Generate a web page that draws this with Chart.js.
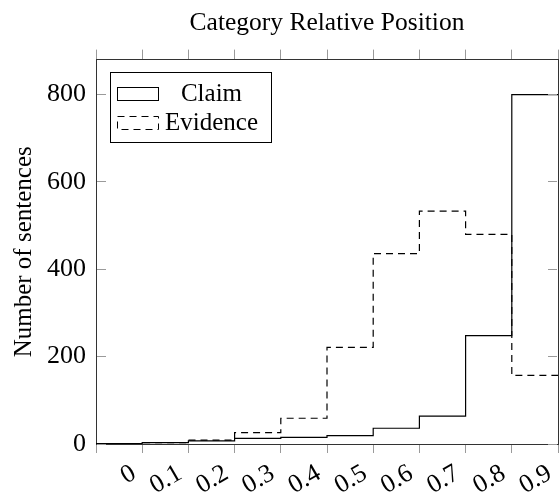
<!DOCTYPE html>
<html><head><meta charset="utf-8">
<script src="https://cdn.jsdelivr.net/npm/chart.js@4.4.1/dist/chart.umd.min.js"></script>
<style>html,body{margin:0;padding:0;background:#fff;} canvas{display:block;}</style>
</head><body>
<canvas id="c" width="559" height="495"></canvas>
<script>
// ---- data ----
const binEdges = [0, 0.1, 0.2, 0.3, 0.4, 0.5, 0.6, 0.7, 0.8, 0.9, 1.0];
const xTickLabels = ['0', '0.1', '0.2', '0.3', '0.4', '0.5', '0.6', '0.7', '0.8', '0.9'];
const claimCounts = [1, 3, 7, 13, 15, 19, 36, 64, 248, 800];
const evidenceCounts = [1, 3, 9, 26, 59, 221, 436, 533, 480, 157];
const yTickValues = [0, 200, 400, 600, 800];
const seriesNames = ['Claim', 'Evidence'];
const chartTitle = 'Category Relative Position';
const yAxisTitle = 'Number of sentences';

function stepPoints(counts) {
  const pts = counts.map((v, i) => ({ x: binEdges[i], y: v }));
  pts.push({ x: binEdges[counts.length], y: counts[counts.length - 1] });
  return pts;
}

const SERIF = '"Liberation Serif", "Times New Roman", serif';
const FRAME = '#333';
const TICKC = '#9a9a9a';

// inner tick marks for the vertical axes (pgfplots style: ticks point into the plot)
const innerTicks = {
  id: 'innerTicks',
  afterDraw(chart) {
    const { ctx, chartArea } = chart;
    ctx.save();
    ctx.strokeStyle = TICKC;
    ctx.lineWidth = 1;
    ctx.setLineDash([]);
    ['y', 'yRight'].forEach(id => {
      const s = chart.scales[id];
      s.ticks.forEach(t => {
        const py = Math.round(s.getPixelForValue(t.value) - 0.5) + 0.5;
        ctx.beginPath();
        if (id === 'y') {
          ctx.moveTo(chartArea.left + 1, py);
          ctx.lineTo(chartArea.left + 10, py);
        } else {
          ctx.moveTo(chartArea.right - 1, py);
          ctx.lineTo(chartArea.right - 10, py);
        }
        ctx.stroke();
      });
    });
    ctx.restore();
  }
};

const insideLegend = {
  id: 'insideLegend',
  afterDatasetsDraw(chart) {
    const { ctx, chartArea } = chart;
    const bx = Math.round(chartArea.left + 14) + 0.5;
    const by = Math.round(chartArea.top + 12) + 0.5;
    const bw = 161, bh = 70;
    ctx.save();
    ctx.fillStyle = '#fff';
    ctx.fillRect(bx, by, bw, bh);
    ctx.strokeStyle = '#000';
    ctx.lineWidth = 1;
    ctx.setLineDash([]);
    ctx.strokeRect(bx, by, bw, bh);
    chart.data.datasets.forEach((ds, i) => {
      const cy = by + 21 + i * 28.5;
      ctx.setLineDash(ds.borderDash || []);
      ctx.strokeStyle = ds.borderColor;
      ctx.lineWidth = 1;
      ctx.fillStyle = '#fff';
      ctx.fillRect(bx + 7, Math.round(cy - 6.5) + 0.5, 41, 13);
      ctx.strokeRect(bx + 7, Math.round(cy - 6.5) + 0.5, 41, 13);
      ctx.setLineDash([]);
      ctx.fillStyle = '#000';
      ctx.font = '25px ' + SERIF;
      ctx.textAlign = 'center';
      ctx.textBaseline = 'middle';
      ctx.fillText(ds.label, bx + 101, cy + 1);
    });
    ctx.restore();
  }
};

new Chart(document.getElementById('c'), {
  type: 'line',
  data: {
    datasets: [
      {
        label: seriesNames[0],
        data: stepPoints(claimCounts),
        stepped: true,
        borderColor: '#000',
        borderWidth: 1.2,
        backgroundColor: '#fff',
        pointRadius: 0,
        fill: false
      },
      {
        label: seriesNames[1],
        data: stepPoints(evidenceCounts),
        stepped: true,
        borderColor: '#000',
        borderWidth: 1.2,
        borderDash: [7, 5],
        backgroundColor: '#fff',
        pointRadius: 0,
        fill: false
      }
    ]
  },
  options: {
    responsive: false,
    animation: false,
    devicePixelRatio: 1,
    layout: { padding: { right: 1, left: 0, top: 0, bottom: 0 } },
    plugins: {
      legend: { display: false },
      tooltip: { enabled: false },
      title: {
        display: true,
        text: chartTitle,
        fullSize: false,
        color: '#000',
        font: { family: SERIF, size: 25.5, weight: 'normal' },
        padding: { top: 8, bottom: 11 }
      }
    },
    scales: {
      x: {
        type: 'linear',
        position: 'bottom',
        min: 0,
        max: 1,
        afterBuildTicks: s => { s.ticks = binEdges.map(v => ({ value: v })); },
        afterFit: s => { s.paddingLeft = 0; s.paddingRight = 0; s.height = 51; },
        grid: { drawOnChartArea: false, drawTicks: true, tickLength: 9, tickColor: TICKC, tickWidth: 1 },
        border: { display: true, color: FRAME, width: 1 },
        ticks: {
          autoSkip: false,
          minRotation: 30,
          maxRotation: 30,
          padding: 5,
          labelOffset: 38,
          color: '#000',
          font: { family: SERIF, size: 26 },
          callback: (v, i) => (i < xTickLabels.length ? xTickLabels[i] : '')
        }
      },
      xTop: {
        type: 'linear',
        axis: 'x',
        position: 'top',
        min: 0,
        max: 1,
        afterBuildTicks: s => { s.ticks = binEdges.map(v => ({ value: v })); },
        afterFit: s => { s.paddingLeft = 0; s.paddingRight = 0; s.height = 10; },
        grid: { drawOnChartArea: false, drawTicks: true, tickLength: 10, tickColor: TICKC },
        border: { display: true, color: FRAME, width: 1 },
        ticks: { display: false }
      },
      y: {
        type: 'linear',
        position: 'left',
        min: 0,
        max: 880,
        afterBuildTicks: s => { s.ticks = yTickValues.map(v => ({ value: v })); },
        afterFit: s => { s.width = 96; s.paddingTop = 0; s.paddingBottom = 0; },
        grid: { drawOnChartArea: false, drawTicks: false },
        border: { display: true, color: FRAME, width: 1 },
        ticks: {
          padding: 10,
          color: '#000',
          font: { family: SERIF, size: 26 }
        },
        title: {
          display: true,
          text: yAxisTitle,
          color: '#000',
          font: { family: SERIF, size: 25, weight: 'normal' },
          padding: { top: 9, bottom: 0 }
        }
      },
      yRight: {
        type: 'linear',
        axis: 'y',
        position: 'right',
        min: 0,
        max: 880,
        afterBuildTicks: s => { s.ticks = yTickValues.map(v => ({ value: v })); },
        afterFit: s => { s.width = 0; s.paddingTop = 0; s.paddingBottom = 0; },
        grid: { drawOnChartArea: false, drawTicks: false },
        border: { display: true, color: FRAME, width: 1 },
        ticks: { display: false }
      }
    }
  },
  plugins: [innerTicks, insideLegend]
});
</script>
</body></html>
